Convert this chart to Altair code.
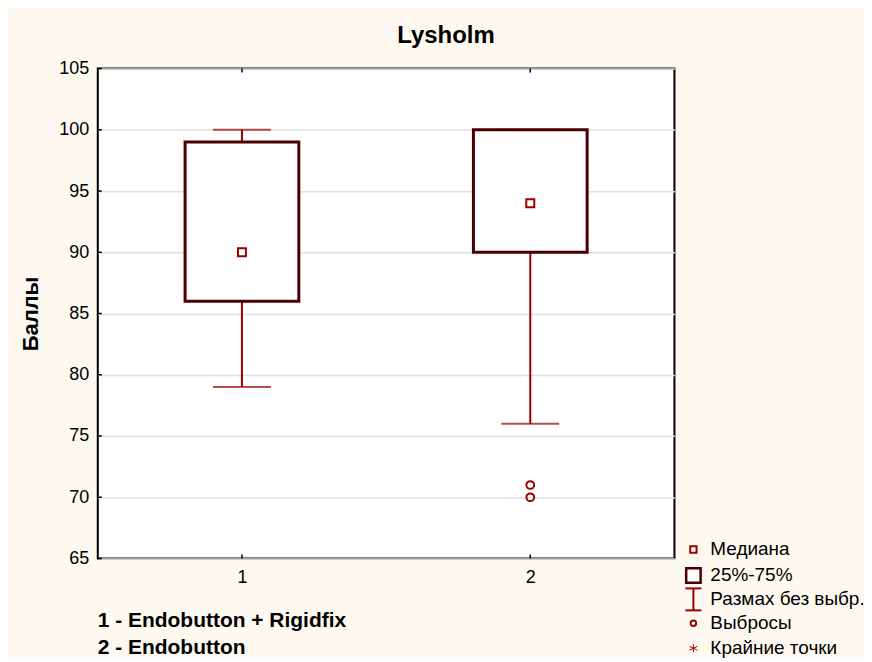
import altair as alt
import pandas as pd

groups = [1, 2]
q1 = [86, 90]
q3 = [99, 100]
medians = [90, 94]
whisk_lo = [79, 76]
whisk_hi = [100, 100]
outlier_group = [2, 2]
outlier_vals = [70, 71]
y_ticks = [65, 70, 75, 80, 85, 90, 95, 100, 105]
group_notes = ["1 - Endobutton + Rigidfix", "2 - Endobutton"]
legend_labels = ["Медиана", "25%-75%", "Размах без выбр.", "Выбросы", "Крайние точки"]

FONT = "Liberation Sans"
DARK = "#4a0000"
RED = "#990000"

box_df = pd.DataFrame({"g": groups, "q1": q1, "q3": q3, "med": medians,
                       "lo": whisk_lo, "hi": whisk_hi})
out_df = pd.DataFrame({"g": outlier_group, "v": outlier_vals})
yt_df = pd.DataFrame({"v": y_ticks})

xs = alt.Scale(domain=[0.5, 2.5], nice=False, zero=False, padding=0)
ys = alt.Scale(domain=[65, 105], nice=False, zero=False, padding=0)

xax = alt.Axis(values=groups, format="d", title=None, grid=False, labelFont=FONT,
               labelFontSize=18, labelColor="#000", ticks=False,
               domain=False, labelPadding=10)
yax = alt.Axis(values=y_ticks, title="Баллы", titleFont=FONT, titleFontSize=22,
               titleFontWeight="bold", titleColor="#000", titlePadding=16,
               labelFont=FONT, labelFontSize=18, labelColor="#000", ticks=False,
               grid=True, gridColor="#e0e0e0", gridWidth=1.5, domain=False,
               labelPadding=9)

base = alt.Chart(box_df)

whisker = base.mark_rule(color=RED, strokeWidth=2).encode(
    x=alt.X("g:Q", scale=xs, axis=xax),
    y=alt.Y("lo:Q", scale=ys, axis=yax),
    y2="hi:Q",
)
cap_lo = base.mark_tick(color=RED, thickness=2, size=58, orient="horizontal").encode(
    x=alt.X("g:Q", scale=xs), y=alt.Y("lo:Q", scale=ys))
cap_hi = base.mark_tick(color=RED, thickness=2, size=58, orient="horizontal").encode(
    x=alt.X("g:Q", scale=xs), y=alt.Y("hi:Q", scale=ys))
box = base.mark_bar(size=114, fill="white", stroke=DARK, strokeWidth=3).encode(
    x=alt.X("g:Q", scale=xs), y=alt.Y("q1:Q", scale=ys), y2="q3:Q")
med = base.mark_square(size=64, fill="white", stroke=RED, strokeWidth=2, opacity=1).encode(
    x=alt.X("g:Q", scale=xs), y=alt.Y("med:Q", scale=ys))
outl = alt.Chart(out_df).mark_point(shape="circle", size=60, stroke=RED, strokeWidth=2,
                                    filled=False, opacity=1).encode(
    x=alt.X("g:Q", scale=xs), y=alt.Y("v:Q", scale=ys))

# inward tick marks
ytick_marks = alt.Chart(yt_df).mark_rule(color="#000", strokeWidth=1.5).encode(
    x=alt.value(0), x2=alt.value(4), y=alt.Y("v:Q", scale=ys))
xtick_top = base.mark_rule(color="#000", strokeWidth=1.5).encode(
    x=alt.X("g:Q", scale=xs), y=alt.value(0), y2=alt.value(4))
xtick_bot = base.mark_rule(color="#000", strokeWidth=1.5).encode(
    x=alt.X("g:Q", scale=xs), y=alt.value(487), y2=alt.value(491))

layers = [whisker, cap_lo, cap_hi, box, med, outl, ytick_marks, xtick_top, xtick_bot]

# group notes below the plot
note_y = [554, 581]
for txt, yy in zip(group_notes, note_y):
    layers.append(alt.Chart(box_df.head(1)).mark_text(
        text=txt, align="left", baseline="middle", font=FONT, fontSize=21,
        fontWeight="bold", color="#000").encode(x=alt.value(0), y=alt.value(yy)))

# legend
leg_y = [482, 508, 532, 556, 581]
for txt, yy in zip(legend_labels, leg_y):
    layers.append(alt.Chart(box_df.head(1)).mark_text(
        text=txt, align="left", baseline="middle", font=FONT, fontSize=19,
        color="#000").encode(x=alt.value(614), y=alt.value(yy)))

one = alt.Chart(box_df.head(1))
SX = 597
ay = leg_y[4]
layers += [
    one.mark_square(size=40, fill="white", stroke=RED, strokeWidth=2, opacity=1).encode(
        x=alt.value(SX), y=alt.value(leg_y[0])),
    one.mark_square(size=210, fill="white", stroke=DARK, strokeWidth=2.5, opacity=1).encode(
        x=alt.value(SX), y=alt.value(leg_y[1])),
    one.mark_rule(color=RED, strokeWidth=2).encode(
        x=alt.value(SX), y=alt.value(leg_y[2] - 11), y2=alt.value(leg_y[2] + 11)),
    one.mark_rule(color=RED, strokeWidth=2).encode(
        x=alt.value(SX - 8), x2=alt.value(SX + 8), y=alt.value(leg_y[2] - 11)),
    one.mark_rule(color=RED, strokeWidth=2).encode(
        x=alt.value(SX - 8), x2=alt.value(SX + 8), y=alt.value(leg_y[2] + 11)),
    one.mark_point(shape="circle", size=30, stroke=RED, strokeWidth=2, filled=False,
                   opacity=1).encode(x=alt.value(SX), y=alt.value(leg_y[3])),
    # asterisk symbol
    one.mark_rule(color=RED, strokeWidth=1).encode(
        x=alt.value(SX), y=alt.value(ay - 4), y2=alt.value(ay + 4)),
    one.mark_rule(color=RED, strokeWidth=1).encode(
        x=alt.value(SX - 4), x2=alt.value(SX + 4), y=alt.value(ay - 2), y2=alt.value(ay + 2)),
    one.mark_rule(color=RED, strokeWidth=1).encode(
        x=alt.value(SX - 4), x2=alt.value(SX + 4), y=alt.value(ay + 2), y2=alt.value(ay - 2)),
]

chart = alt.layer(*layers).properties(
    width=578, height=491,
    autosize=alt.AutoSizeParams(type="none"),
    padding={"left": 90, "top": 60, "right": 190, "bottom": 100},
    background="#fdf9f0",
    title=alt.Title("Lysholm", font=FONT, fontSize=24, fontWeight="bold", color="#000",
                    anchor="middle", offset=12, dx=60),
).configure_view(fill="white", stroke="#000", strokeWidth=2, clip=False)

chart.save("out.html", embed_options={"renderer": "svg", "actions": False})
